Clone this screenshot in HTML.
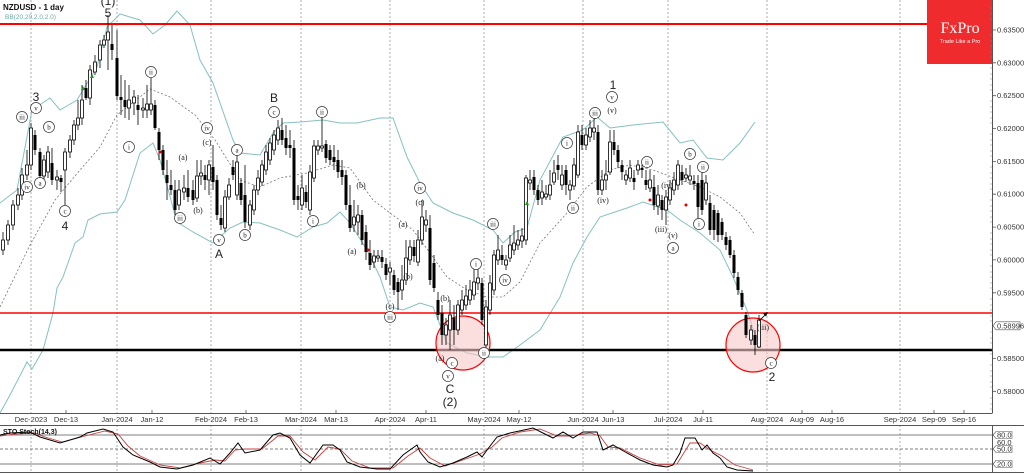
<!DOCTYPE html>
<html><head><meta charset="utf-8"><style>
html,body{margin:0;padding:0;background:#fff;}
svg{display:block;font-family:"Liberation Sans",sans-serif;}
.ax{font-size:7.5px;fill:#333;}
.el{font-size:12px;fill:#222;}
.cl{font-size:7px;fill:#222;font-family:"Liberation Serif",serif;text-anchor:middle;}
.pt{font-size:8px;fill:#222;font-family:"Liberation Serif",serif;text-anchor:middle;}
</style></head><body>
<svg width="1024" height="474" viewBox="0 0 1024 474" xmlns="http://www.w3.org/2000/svg">
<rect width="1024" height="474" fill="#fff"/>
<g stroke="#9a9a9a" stroke-width="0.8" stroke-dasharray="2,2">
<path d="M31 0V413M117 0V413M211 0V413M301 0V413M390 0V413M484 0V413M583 0V413M668 0V413M767 0V413M900 0V413"/>
<path d="M31 425V472M117 425V472M211 425V472M301 425V472M390 425V472M484 425V472M583 425V472M668 425V472M767 425V472M900 425V472"/>
</g>
<g fill="none" stroke="#86c0c0" stroke-width="1">
<polyline points="0,203 17,190 32,110 50,98 60,110 77,100 97,67 107,27 120,14 140,20 153,34 165,25 177,11 190,25 200,60 213,83 233,140 240,153 260,155 273,133 283,123 300,122 323,120 340,123 357,123 380,118 393,118 407,157 420,183 433,203 453,213 473,220 493,230 503,243 515,232 527,228 540,180 563,137 583,130 597,117 610,128 633,125 663,122 680,143 693,140 707,158 723,160 740,143 755,122"/>
<polyline points="0,413 10,395 27,362 32,369 43,350 53,313 57,288 63,277 75,243 83,237 88,220 100,214 117,212 125,200 140,153 153,143 160,160 177,222 193,232 213,243 230,228 243,222 260,223 280,230 297,237 313,227 327,223 340,212 350,223 367,250 380,277 390,307 403,310 420,303 433,307 447,343 467,353 487,357 503,357 520,345 540,330 560,297 573,263 587,237 600,217 627,208 643,202 667,210 680,220 700,233 720,250 733,277 747,310 755,335"/>
</g>
<polyline fill="none" stroke="#777" stroke-width="0.8" stroke-dasharray="2,2" points="0,307 30,245 55,200 80,170 100,147 117,115 150,89 170,97 195,115 215,140 240,180 260,187 280,178 307,173 333,165 350,168 373,200 390,213 413,230 430,253 447,277 467,290 487,297 503,297 520,282 540,243 567,213 587,187 610,170 630,165 653,170 680,180 700,187 720,197 740,213 755,235"/>
<line x1="0" y1="24" x2="992" y2="24" stroke="#f00" stroke-width="2"/>
<line x1="0" y1="313" x2="992" y2="313" stroke="#f00" stroke-width="1.5"/>
<line x1="0" y1="350" x2="992" y2="350" stroke="#000" stroke-width="2.5"/>
<circle cx="463" cy="343" r="27" fill="#f8c8c8" fill-opacity="0.6" stroke="#f00" stroke-width="1.2"/>
<circle cx="753" cy="345" r="27" fill="#f8c8c8" fill-opacity="0.6" stroke="#f00" stroke-width="1.2"/>
<path fill="none" stroke="#000" stroke-width="0.8" d="M3 232V255M8 220V245M13 200V230M18 188V210M22 168V200M27 150V180M31 123V170M35 130V155M40 148V180M44 155V180M48 146V178M52 148V185M57 170V190M61 175V192M65 148V205M70 135V158M74 120V145M78 100V130M82 85V125M86 80V100M90 65V105M95 55V75M100 40V68M104 35V48M108 15V70M112 25V60M117 30V100M121 75V115M125 80V118M129 85V120M134 90V115M138 95V125M143 98V118M147 85V118M151 78V115M155 100V130M159 128V160M163 145V175M167 160V200M171 170V195M175 180V215M179 180V210M184 175V200M188 170V202M193 180V205M197 160V202M201 160V185M205 165V190M209 160V195M213 145V190M217 175V220M221 205V230M225 190V232M229 178V200M233 160V180M237 155V200M241 178V205M245 165V228M250 200V230M254 185V215M258 170V195M262 160V186M266 145V175M270 138V165M274 130V155M278 120V145M282 118V145M286 125V155M290 130V158M294 140V205M298 185V210M302 175V210M306 185V208M310 165V215M314 140V182M318 140V155M322 115V152M326 140V163M330 145V165M334 145V170M338 150V178M342 160V185M346 170V210M350 185V232M354 200V232M358 205V235M362 210V245M366 225V260M370 240V270M374 250V268M378 250V262M382 250V268M386 258V280M390 262V285M394 270V295M398 278V310M402 265V300M406 240V285M410 240V265M414 240V262M418 230V266M422 200V245M426 210V232M430 215V285M434 255V292M438 292V320M442 305V345M446 318V345M450 300V350M454 305V345M458 300V335M462 290V315M466 285V310M470 280V305M474 265V300M478 268V290M482 278V325M486 300V350M490 275V315M494 250V295M498 235V265M502 245V265M506 255V270M510 235V262M514 225V255M518 230V250M522 228V248M526 175V245M530 170V190M534 170V195M538 185V205M542 180V205M546 185V200M550 170V200M554 160V185M558 155V180M562 165V190M566 165V195M570 180V200M574 158V190M578 125V178M582 125V150M586 128V150M590 120V142M594 118V140M598 125V195M602 170V195M606 160V190M610 130V175M614 130V155M618 145V168M622 160V180M626 170V185M630 160V182M634 170V190M638 160V175M642 160V178M646 170V190M650 170V192M654 175V210M658 185V215M662 195V220M666 190V225M670 180V205M674 172V195M678 160V190M682 165V185M686 168V182M690 165V185M694 175V190M698 175V222M702 170V215M706 175V205M710 195V235M714 205V240M718 210V242M722 218V240M726 232V250M730 236V258M734 250V278M738 272V295M742 290V310M746 312V338M751 325V345M755 330V355M759 315V348"/>
<path fill="#fff" stroke="#000" stroke-width="0.8" d="M1.5 240h3V250h-3zM6.5 225h3V240h-3zM11.5 205h3V225h-3zM16.5 195h3V205h-3zM20.5 175h3V195h-3zM25.5 165h3V175h-3zM29.5 128h3V165h-3zM42.5 160h3V176h-3zM46.5 152h3V172h-3zM55.5 177h3V180h-3zM63.5 152h3V170h-3zM68.5 140h3V152h-3zM72.5 125h3V140h-3zM76.5 118h3V125h-3zM80.5 100h3V118h-3zM88.5 70h3V98h-3zM93.5 62h3V72h-3zM98.5 45h3V60h-3zM102.5 40h3V45h-3zM106.5 32h3V40h-3zM127.5 100h3V108h-3zM132.5 97h3V103h-3zM141.5 108h3V110h-3zM145.5 104h3V110h-3zM149.5 104h3V110h-3zM177.5 190h3V205h-3zM182.5 188h3V192h-3zM195.5 176h3V198h-3zM199.5 173h3V176h-3zM207.5 165h3V180h-3zM223.5 197h3V228h-3zM227.5 185h3V197h-3zM235.5 162h3V195h-3zM248.5 205h3V225h-3zM252.5 190h3V210h-3zM256.5 178h3V190h-3zM260.5 165h3V182h-3zM264.5 152h3V170h-3zM268.5 143h3V160h-3zM272.5 135h3V150h-3zM276.5 128h3V140h-3zM300.5 188h3V205h-3zM308.5 172h3V210h-3zM312.5 146h3V178h-3zM316.5 146h3V150h-3zM320.5 146h3V148h-3zM352.5 217h3V225h-3zM356.5 215h3V222h-3zM372.5 256h3V262h-3zM376.5 256h3V258h-3zM388.5 268h3V272h-3zM400.5 280h3V290h-3zM404.5 258h3V280h-3zM408.5 247h3V260h-3zM416.5 240h3V262h-3zM420.5 217h3V240h-3zM424.5 220h3V225h-3zM444.5 325h3V335h-3zM448.5 315h3V330h-3zM456.5 305h3V330h-3zM460.5 300h3V310h-3zM464.5 296h3V305h-3zM468.5 290h3V300h-3zM472.5 282h3V295h-3zM476.5 278h3V283h-3zM484.5 307h3V345h-3zM488.5 283h3V310h-3zM492.5 255h3V290h-3zM496.5 250h3V260h-3zM504.5 260h3V265h-3zM508.5 245h3V258h-3zM512.5 243h3V250h-3zM516.5 240h3V245h-3zM520.5 236h3V241h-3zM524.5 178h3V240h-3zM528.5 180h3V183h-3zM540.5 192h3V198h-3zM544.5 194h3V197h-3zM548.5 185h3V195h-3zM552.5 173h3V182h-3zM560.5 175h3V185h-3zM568.5 185h3V190h-3zM572.5 165h3V186h-3zM576.5 132h3V175h-3zM584.5 135h3V145h-3zM588.5 128h3V137h-3zM592.5 128h3V132h-3zM600.5 180h3V190h-3zM604.5 175h3V180h-3zM608.5 142h3V172h-3zM624.5 175h3V180h-3zM628.5 168h3V178h-3zM636.5 165h3V170h-3zM648.5 180h3V188h-3zM656.5 195h3V206h-3zM664.5 197h3V210h-3zM668.5 188h3V200h-3zM672.5 180h3V190h-3zM676.5 165h3V185h-3zM684.5 175h3V178h-3zM688.5 176h3V180h-3zM704.5 183h3V200h-3zM749.5 330h3V340h-3zM757.5 320h3V347h-3z"/>
<path fill="#000" d="M33.5 135h3V150h-3zM38.5 152h3V176h-3zM50.5 163h3V180h-3zM59.5 178h3V182h-3zM84.5 88h3V98h-3zM110.5 44h3V50h-3zM115.5 58h3V96h-3zM119.5 97h3V100h-3zM123.5 100h3V107h-3zM136.5 105h3V110h-3zM153.5 105h3V128h-3zM157.5 132h3V150h-3zM161.5 150h3V170h-3zM165.5 175h3V183h-3zM169.5 185h3V190h-3zM173.5 190h3V210h-3zM186.5 188h3V197h-3zM191.5 190h3V200h-3zM203.5 175h3V180h-3zM211.5 167h3V182h-3zM215.5 180h3V215h-3zM219.5 218h3V225h-3zM231.5 167h3V175h-3zM239.5 183h3V200h-3zM243.5 195h3V222h-3zM280.5 130h3V140h-3zM284.5 138h3V148h-3zM288.5 145h3V148h-3zM292.5 148h3V200h-3zM296.5 196h3V200h-3zM304.5 192h3V202h-3zM324.5 144h3V158h-3zM328.5 150h3V160h-3zM332.5 157h3V162h-3zM336.5 160h3V172h-3zM340.5 170h3V177h-3zM344.5 175h3V205h-3zM348.5 205h3V228h-3zM360.5 215h3V240h-3zM364.5 232h3V252h-3zM368.5 253h3V265h-3zM380.5 257h3V262h-3zM384.5 264h3V275h-3zM392.5 275h3V290h-3zM396.5 282h3V292h-3zM412.5 247h3V256h-3zM428.5 228h3V280h-3zM432.5 263h3V288h-3zM436.5 300h3V315h-3zM440.5 313h3V335h-3zM452.5 318h3V330h-3zM480.5 283h3V320h-3zM500.5 255h3V260h-3zM532.5 177h3V190h-3zM536.5 190h3V200h-3zM556.5 165h3V170h-3zM564.5 170h3V185h-3zM580.5 135h3V145h-3zM596.5 132h3V190h-3zM612.5 142h3V150h-3zM616.5 150h3V162h-3zM620.5 165h3V172h-3zM632.5 178h3V182h-3zM640.5 168h3V170h-3zM644.5 180h3V185h-3zM652.5 187h3V205h-3zM660.5 200h3V210h-3zM680.5 172h3V180h-3zM692.5 181h3V184h-3zM696.5 183h3V207h-3zM700.5 180h3V210h-3zM708.5 203h3V230h-3zM712.5 210h3V230h-3zM716.5 213h3V235h-3zM720.5 222h3V235h-3zM724.5 237h3V245h-3zM728.5 240h3V255h-3zM732.5 255h3V273h-3zM736.5 277h3V290h-3zM740.5 293h3V307h-3zM744.5 315h3V335h-3zM753.5 335h3V345h-3z"/>
<g fill="#1a9a1a"><path d="M83 86l-2 4h4z"/><path d="M92 74l-2 4h4z"/><path d="M527 201l-2 4h4z"/></g>
<g fill="#d00"><circle cx="160" cy="152" r="1.5"/><circle cx="368" cy="250" r="1.5"/><circle cx="650" cy="200" r="1.5"/><circle cx="686" cy="205" r="1.5"/></g>
<line x1="759" y1="321" x2="765" y2="315" stroke="#000" stroke-width="0.8"/>
<path d="M768 312l-5 1.5 3 3z" fill="#000"/>
<g class="el" text-anchor="middle">
<text x="108" y="5">(1)</text><text x="108" y="17">5</text>
<text x="36" y="101">3</text><text x="65" y="230">4</text>
<text x="219" y="258">A</text><text x="274" y="102">B</text>
<text x="450" y="393">C</text><text x="450" y="406">(2)</text>
<text x="613" y="89">1</text><text x="772" y="381">2</text>
</g>
<g fill="#fff" stroke="#333" stroke-width="0.7">
<circle cx="22" cy="117" r="5.5"/><circle cx="36" cy="108" r="5.5"/><circle cx="27" cy="187" r="5.5"/><circle cx="40" cy="183" r="5.5"/><circle cx="49" cy="127" r="5.5"/><circle cx="65" cy="211" r="5.5"/>
<circle cx="151" cy="72" r="5.5"/><circle cx="129" cy="147" r="5.5"/><circle cx="180" cy="218" r="5.5"/><circle cx="207" cy="128" r="5.5"/><circle cx="219" cy="240" r="5.5"/><circle cx="237" cy="150" r="5.5"/><circle cx="245" cy="235" r="5.5"/>
<circle cx="274" cy="112" r="5.5"/><circle cx="322" cy="112" r="5.5"/><circle cx="313" cy="221" r="5.5"/><circle cx="390" cy="317" r="5.5"/><circle cx="420" cy="188" r="5.5"/><circle cx="452" cy="363" r="5.5"/><circle cx="448" cy="376" r="5.5"/><circle cx="476" cy="264" r="5.5"/><circle cx="484" cy="353" r="5.5"/><circle cx="493" cy="224" r="5.5"/><circle cx="505" cy="280" r="5.5"/>
<circle cx="567" cy="143" r="5.5"/><circle cx="573" cy="208" r="5.5"/><circle cx="612" cy="97" r="5.5"/><circle cx="595" cy="113" r="5.5"/><circle cx="647" cy="162" r="5.5"/><circle cx="673" cy="248" r="5.5"/><circle cx="699" cy="224" r="5.5"/><circle cx="690" cy="154" r="5.5"/><circle cx="703" cy="167" r="5.5"/><circle cx="771" cy="363" r="5.5"/>
</g>
<g class="cl">
<text x="22" y="119.5">iii</text><text x="36" y="110.5">v</text><text x="27" y="189.5">iv</text><text x="40" y="185.5">a</text><text x="49" y="129.5">b</text><text x="65" y="213.5">c</text>
<text x="151" y="74.5">ii</text><text x="129" y="149.5">i</text><text x="180" y="220.5">iii</text><text x="207" y="130.5">iv</text><text x="219" y="242.5">v</text><text x="237" y="152.5">a</text><text x="245" y="237.5">b</text>
<text x="274" y="114.5">c</text><text x="322" y="114.5">ii</text><text x="313" y="223.5">i</text><text x="390" y="319.5">iii</text><text x="420" y="190.5">iv</text><text x="452" y="365.5">c</text><text x="448" y="378.5">v</text><text x="476" y="266.5">i</text><text x="484" y="355.5">ii</text><text x="493" y="226.5">iii</text><text x="505" y="282.5">iv</text>
<text x="567" y="145.5">i</text><text x="573" y="210.5">ii</text><text x="612" y="99.5">v</text><text x="595" y="115.5">iii</text><text x="647" y="164.5">ii</text><text x="673" y="250.5">a</text><text x="699" y="226.5">i</text><text x="690" y="156.5">b</text><text x="703" y="169.5">ii</text><text x="771" y="365.5">c</text>
</g>
<g class="pt">
<text x="183" y="160">(a)</text><text x="198" y="213">(b)</text><text x="207" y="145">(c)</text>
<text x="361" y="188">(b)</text><text x="352" y="254">(a)</text><text x="390" y="309">(c)</text><text x="403" y="227">(a)</text><text x="408" y="279">(b)</text><text x="420" y="205">(c)</text><text x="445" y="301">(b)</text><text x="440" y="361">(a)</text>
<text x="612" y="113">(v)</text><text x="603" y="203">(iv)</text><text x="667" y="188">(iv)</text><text x="661" y="232">(iii)</text><text x="673" y="238">(v)</text><text x="763" y="330">(iii)</text>
</g>
<text x="3" y="10" font-size="8" font-weight="bold" fill="#111">NZDUSD - 1 day</text>
<text x="5" y="19" font-size="6.5" fill="#6aa8a8">BB(20,20,2.0,2.0)</text>
<rect x="927" y="0" width="65" height="64" fill="#ef2b2d"/>
<text x="960" y="33" font-family="Liberation Serif,serif" font-size="16" fill="#fff" text-anchor="middle">FxPro</text>
<text x="960" y="43" font-size="5.5" fill="#fff" text-anchor="middle">Trade Like a Pro</text>
<g stroke="#555" stroke-width="1" fill="none">
<line x1="992.5" y1="0" x2="992.5" y2="413"/>
<line x1="0" y1="413.5" x2="992.5" y2="413.5"/>
<line x1="0" y1="425.5" x2="1024" y2="425.5"/>
<line x1="992.5" y1="425" x2="992.5" y2="472"/>
<line x1="0" y1="472.5" x2="1024" y2="472.5"/>
</g>
<path stroke="#555" stroke-width="0.8" d="M992 30h4M992 62.8h4M992 95.7h4M992 128.5h4M992 161.4h4M992 194.2h4M992 227.1h4M992 259.9h4M992 292.8h4M992 358.5h4M992 391.3h4"/>
<path stroke="#888" stroke-width="0.6" d="M990 8h2M990 14h2M990 19h2M990 35h2M990 41h2M990 46h2M990 52h2M990 57h2M990 68h2M990 74h2M990 79h2M990 85h2M990 90h2M990 101h2M990 107h2M990 112h2M990 118h2M990 123h2M990 134h2M990 140h2M990 145h2M990 151h2M990 156h2M990 167h2M990 173h2M990 178h2M990 184h2M990 189h2M990 200h2M990 206h2M990 211h2M990 217h2M990 222h2M990 233h2M990 239h2M990 244h2M990 250h2M990 255h2M990 266h2M990 272h2M990 277h2M990 283h2M990 288h2M990 299h2M990 305h2M990 310h2M990 316h2M990 321h2M990 332h2M990 338h2M990 343h2M990 349h2M990 354h2M990 365h2M990 371h2M990 376h2M990 382h2M990 387h2M990 398h2M990 404h2M990 409h2"/>
<g class="ax">
<text x="997" y="32.5">0.63500</text><text x="997" y="65.3">0.63000</text><text x="997" y="98.2">0.62500</text><text x="997" y="131">0.62000</text><text x="997" y="163.9">0.61500</text><text x="997" y="196.7">0.61000</text><text x="997" y="229.6">0.60500</text><text x="997" y="262.4">0.60000</text><text x="997" y="295.3">0.59500</text><text x="997" y="361">0.58500</text><text x="997" y="393.8">0.58000</text>
</g>
<path d="M993 325.8l3-4h24v8h-24z" fill="#fff" stroke="#555" stroke-width="0.6"/>
<text x="997" y="328.3" class="ax">0.58996</text>
<path stroke="#555" stroke-width="0.8" d="M66 410v3M152 410v3M246 410v3M336 410v3M426 410v3M519 410v3M613 410v3M703 410v3M802 410v3M832 410v3M934 410v3M964 410v3"/>
<g class="ax" text-anchor="middle">
<text x="31" y="422">Dec-2023</text><text x="66" y="422">Dec-13</text><text x="117" y="422">Jan-2024</text><text x="152" y="422">Jan-12</text><text x="211" y="422">Feb-2024</text><text x="246" y="422">Feb-13</text><text x="301" y="422">Mar-2024</text><text x="336" y="422">Mar-13</text><text x="390" y="422">Apr-2024</text><text x="426" y="422">Apr-11</text><text x="484" y="422">May-2024</text><text x="519" y="422">May-12</text><text x="583" y="422">Jun-2024</text><text x="613" y="422">Jun-13</text><text x="668" y="422">Jul-2024</text><text x="703" y="422">Jul-11</text><text x="767" y="422">Aug-2024</text><text x="802" y="422">Aug-09</text><text x="832" y="422">Aug-16</text><text x="900" y="422">Sep-2024</text><text x="934" y="422">Sep-09</text><text x="964" y="422">Sep-16</text>
</g>
<g stroke="#555" stroke-width="0.8">
<line x1="0" y1="435" x2="992" y2="435"/>
<line x1="0" y1="464" x2="992" y2="464"/>
<line x1="0" y1="449" x2="992" y2="449" stroke-dasharray="3,2"/>
</g>
<polyline fill="none" stroke="#c84040" stroke-width="0.9" points="0,436 15,434 35,433 45,437 62,442 85,436 105,431 118,434 128,446 140,456 160,465 180,468 200,463 215,460 225,461 235,450 245,449 262,449 278,436 290,436 303,452 315,460 328,447 340,449 352,461 370,468 393,468 408,456 420,448 430,458 445,466 460,461 480,454 492,447 502,438 520,432 540,429 557,436 570,436 590,433 600,436 608,447 620,448 640,458 660,465 677,464 690,443 700,443 710,450 722,456 735,465 753,470"/>
<polyline fill="none" stroke="#000" stroke-width="1" points="0,435 10,433 30,432 40,437 60,443 80,437 87,433 103,429 113,432 123,447 133,455 150,462 160,467 177,469 193,465 210,458 220,464 230,453 238,443 245,453 260,450 273,435 280,433 290,438 300,455 310,463 323,445 333,445 340,450 347,462 360,467 377,469 390,469 403,455 417,445 420,452 428,462 440,467 453,463 467,457 477,452 482,457 487,450 497,437 510,433 533,428 553,438 563,432 573,438 583,432 597,432 603,450 613,445 627,453 640,460 653,465 667,467 673,465 680,453 685,438 695,438 702,450 707,445 713,453 720,458 727,467 737,470 753,471"/>
<text x="3" y="434" font-size="7" font-weight="bold" fill="#111">STO Stoch(14,3)</text>
<g class="ax" font-size="7">
<path d="M993 435l3-3.5h16v7h-16z" fill="#fff" stroke="#555" stroke-width="0.6"/><text x="997" y="437.5">80.0</text>
<text x="997" y="445">60.0</text>
<path d="M993 449l3-3.5h16v7h-16z" fill="#fff" stroke="#555" stroke-width="0.6"/><text x="997" y="451.5">50.0</text>
<path d="M993 464l3-3.5h16v7h-16z" fill="#fff" stroke="#555" stroke-width="0.6"/><text x="997" y="466.5">20.0</text>
</g>
</svg>
</body></html>
